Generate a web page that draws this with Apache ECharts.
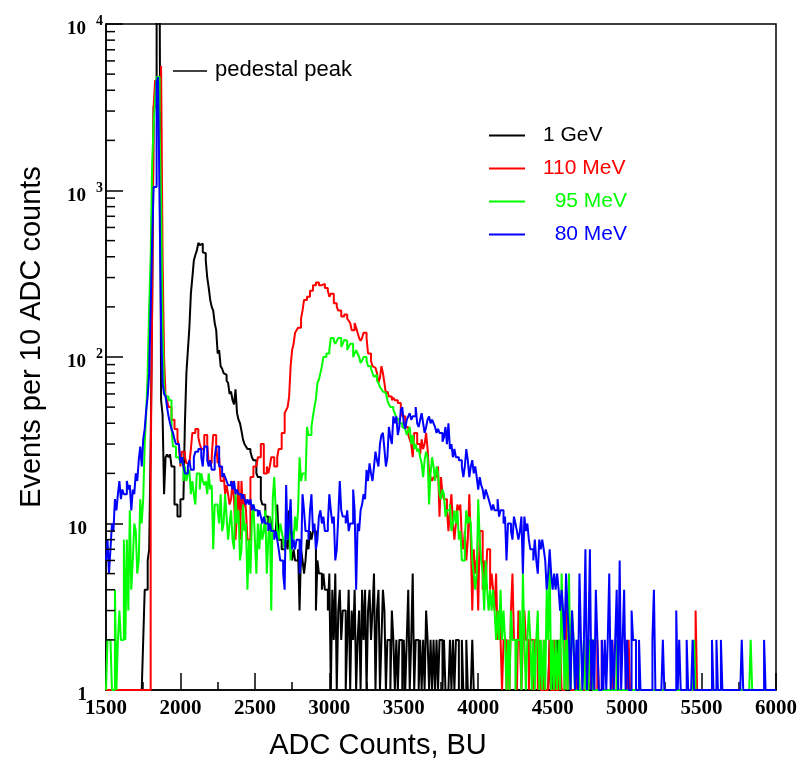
<!DOCTYPE html>
<html>
<head>
<meta charset="utf-8">
<script src="https://cdn.jsdelivr.net/npm/echarts@6/dist/echarts.min.js"></script>
<style>html,body{margin:0;padding:0;background:#fff}#c{width:802px;height:765px}</style>
</head>
<body>
<div id="c"></div>
<script>
// Histogram binning (ADC counts)
const binStart = 1500;
const binWidth = 10;

// Events per 10 ADC counts, bins from 1500 to 6000 (rows of 100 ADC)
const gev1 = [
1,1,1,1,1,1,1,1,1,1,
1,1,1,1,1,1,1,1,1,1,
1,1,1,1,1,2,4,4,6,7,
30,200,3200,3200,20000,20000,20000,55,45,15,
25,26,25,26,22,22,13,13,11,11,
14,14,14,40,80,110,150,240,300,380,
410,435,485,470,480,425,420,380,300,260,
220,200,190,160,145,105,110,88,85,80,
78,72,70,60,62,55,52,64,46,42,
40,36,32,30,29,28,28,27,25,24,
24,20,19,19,14,13,13,11,11,10,
11,10,9,9,9,13,8,8,7,7,
7,8,7,12,7,6,7,6,6,7,
3,7,6,5,6,8,7,9,8,9,
9,3,6,5,5,4,5,4,4,3,
5,1,4,2,5,1,3,4,2,3,
3,1,2,4,1,3,2,4,1,2,
3,1,4,2,4,1,3,4,2,3,
5,1,3,4,1,2,4,3,1,2,
2,1,3,2,1,2,1,2,2,1,
2,1,2,4,1,2,5,1,2,2,
1,2,1,2,1,3,2,1,2,1,
2,1,2,1,2,2,1,2,1,1,
1,2,1,2,1,2,2,1,1,2,
1,1,2,1,1,1,2,1,1,1,
1,1,1,1,1,1,1,1,1,1,
1,1,1,1,1,1,1,1,1,1,
1,1,1,1,1,1,1,1,1,1,
1,1,1,1,1,1,1,1,1,1,
1,1,1,1,1,1,1,1,2,1,
1,1,1,2,1,1,1,1,1,1,
1,1,1,1,1,1,1,1,1,1,
1,1,1,1,1,1,1,1,1,1,
1,1,1,1,1,1,1,1,1,1,
1,1,1,1,1,1,1,1,1,1,
1,1,1,1,1,1,1,1,1,1,
1,1,1,1,1,1,1,1,1,1,
1,1,1,1,1,1,1,1,1,1,
1,1,1,1,1,1,1,1,1,1,
1,1,1,1,1,1,1,1,1,1,
1,1,1,1,1,1,1,1,1,1,
1,1,1,1,1,1,1,1,1,1,
1,1,1,1,1,1,1,1,1,1,
1,1,1,1,1,1,1,1,1,1,
1,1,1,1,1,1,1,1,1,1
];
const mev110 = [
1,1,1,1,1,1,1,1,1,1,
1,1,1,1,1,1,1,1,1,1,
1,1,1,1,1,1,1,1,1,1,
20,200,3200,4600,3200,3000,3000,5600,400,100,
58,55,50,50,42,42,37,37,32,29,
22,27,27,25,23,23,23,28,35,35,
37,37,33,30,28,28,34,34,30,23,
23,25,34,34,30,23,25,18,18,20,
15,17,15,13,14,18,14,8,12,18,
8,18,12,15,12,8,8,19,19,22,
22,22,25,25,30,30,20,20,22,20,
22,25,25,22,22,25,28,28,35,35,
46,48,50,58,88,110,120,140,145,150,
150,170,190,220,220,230,230,250,250,270,
270,280,280,270,270,275,275,260,260,250,
230,240,240,210,210,200,190,190,175,175,
180,180,170,165,160,145,145,160,150,140,
130,125,130,140,140,130,105,105,95,88,
86,84,80,70,75,88,80,70,60,62,
58,58,55,57,55,55,53,53,48,44,
44,38,38,34,32,30,25,35,35,30,
30,26,32,28,30,35,28,20,19,18,
19,19,20,22,11,19,15,14,14,12,
9,12,15,10,8,10,13,12,13,8,
7,9,6,8,15,8,3,7,5,6,
3,9,9,4,6,4,7,7,4,5,
4,3,5,2,3,2,1,2,2,1,
2,1,3,5,2,2,1,3,2,1,
2,3,2,2,1,2,2,1,2,2,
1,2,1,1,2,1,1,1,2,1,
1,2,1,1,1,2,1,1,1,4,
1,2,1,1,1,1,1,2,1,1,
1,1,1,2,1,2,1,2,1,1,
2,1,1,2,1,1,1,1,1,1,
2,1,1,2,1,1,1,1,1,1,
1,2,1,1,1,1,1,1,1,1,
1,1,1,1,1,1,1,1,1,1,
1,1,1,1,1,1,1,1,1,1,
1,1,1,1,1,1,1,1,1,1,
1,1,1,1,1,1,3,1,1,1,
1,1,1,1,1,1,1,1,1,1,
1,1,1,1,1,1,1,1,1,1,
1,1,1,1,1,1,1,1,1,1,
1,1,1,1,1,1,1,1,1,1,
1,1,1,1,1,1,1,1,1,1
];
const mev95 = [
1,2,2,2,1,1,4,1,2,3,
2,2,8,2,8,3,12,4,6,10,
9,5,6,14,10,14,30,46,80,200,
400,1450,2500,3500,4800,4800,2400,900,150,65,
58,58,55,55,37,29,29,25,25,25,
23,23,18,22,18,20,21,15,18,15,
13,20,20,16,20,18,17,18,15,20,
16,17,7,13,13,12,10,15,9,10,
15,11,8,10,12,8,7,15,10,12,
6,7,13,9,10,4,8,5,11,13,
8,5,10,7,10,8,9,12,5,8,
11,3,14,19,12,9,8,10,9,8,
7,9,8,10,6,9,8,11,9,12,
25,18,20,20,18,38,34,34,38,44,
50,56,70,73,80,88,100,100,105,105,
110,130,130,125,120,125,130,130,115,120,
127,125,110,115,120,120,100,105,110,105,
100,92,95,100,100,95,88,88,85,80,
76,78,72,70,66,64,62,61,60,55,
52,50,50,48,46,43,42,40,40,38,
37,36,34,36,38,30,34,28,30,27,
28,25,23,19,24,27,25,13,20,25,
22,18,22,20,15,14,16,15,11,12,
12,13,9,10,12,10,12,8,9,6,
6,8,12,10,11,10,6,5,4,5,
14,8,6,5,3,6,4,3,4,3,
4,3,2,3,2,4,2,3,2,1,
2,1,3,2,2,1,2,2,3,1,
5,2,1,2,3,2,1,2,1,2,
3,1,2,1,2,1,4,2,6,1,
2,1,2,1,2,1,5,2,1,2,
1,5,1,3,2,1,1,2,1,1,
1,2,1,1,1,2,2,1,1,1,
1,1,1,1,1,1,1,1,1,1,
1,1,1,2,1,1,1,1,1,1,
1,1,1,1,1,1,1,1,1,1,
1,1,1,1,1,1,1,1,1,1,
1,1,1,1,1,1,1,1,1,1,
1,1,1,1,1,1,1,1,1,1,
1,1,1,1,1,2,1,1,1,1,
1,1,1,1,1,1,1,1,1,1,
1,1,1,1,1,1,1,1,1,1,
1,1,1,1,1,1,1,1,1,1,
1,1,1,2,1,1,1,1,1,1,
1,1,1,1,1,1,1,1,1,1
];
const mev80 = [
6,8,5,7,10,9,14,12,15,18,
14,16,15,15,18,16,17,12,16,15,
20,18,24,29,22,32,37,48,58,80,
200,500,1050,1050,4500,4800,800,150,70,60,
58,50,44,40,37,35,32,30,30,30,
23,25,22,20,20,22,24,21,21,25,
27,27,28,28,25,22,29,29,24,22,
24,21,21,25,29,29,22,22,19,20,
19,18,17,17,18,16,18,15,16,15,
15,14,15,14,13,14,13,14,12,13,
12,12,11,12,11,10,11,10,10,9,
10,9,9,8,9,8,7,6,6,5,
4,17,8,10,14,7,8,7,8,8,
5,6,15,12,9,9,8,12,15,9,
10,7,8,11,12,10,11,9,9,10,
15,12,10,11,6,7,11,18,12,11,
11,10,12,9,10,10,16,12,4,10,
9,12,13,15,14,21,18,23,20,18,
22,27,24,22,30,34,35,28,22,25,
38,33,30,44,40,44,34,38,48,50,
40,37,42,44,46,42,44,44,50,40,
38,42,46,40,35,38,42,44,40,42,
40,38,35,37,35,35,31,33,38,30,
40,28,30,25,28,25,25,24,24,22,
19,22,28,24,19,22,24,20,22,19,
16,19,17,16,14,16,15,14,13,12,
13,12,12,14,11,12,12,10,11,6,
10,10,9,8,11,10,9,8,9,11,
5,11,9,10,8,7,7,6,8,6,
5,8,7,8,7,6,4,5,7,5,
4,5,4,5,4,3,4,3,2,5,
3,2,1,3,2,1,2,1,5,2,
1,2,7,1,2,7,1,2,1,4,
2,1,1,2,1,2,1,2,5,1,
2,1,2,4,1,6,1,2,4,1,
2,1,1,3,2,2,1,1,2,1,
1,1,1,1,1,1,1,2,4,1,
1,1,1,1,2,1,1,1,1,1,
1,1,1,3,1,2,1,1,1,1,
2,1,1,1,2,1,1,1,1,1,
1,1,1,1,1,1,1,2,1,1,
2,1,1,2,1,1,1,1,1,1,
1,1,1,1,1,1,1,2,1,1,
1,1,1,1,1,1,1,1,1,1,
1,1,2,1,1,1,1,1,1,1
];

const seriesNames = ['1 GeV', '110 MeV', '95 MeV', '80 MeV'];
const seriesColors = ['#000000', '#ff0000', '#00ff00', '#0000ff'];
const xTicks = [1500, 2000, 2500, 3000, 3500, 4000, 4500, 5000, 5500, 6000];
const yMinorTicks = [2,3,4,5,6,7,8,9,20,30,40,50,60,70,80,90,200,300,400,500,600,700,800,900,2000,3000,4000,5000,6000,7000,8000,9000];

function toSteps(arr) {
  const pts = arr.map((v, i) => [binStart + i * binWidth, v]);
  pts.push([binStart + arr.length * binWidth, arr[arr.length - 1]]);
  return pts;
}

const allData = [gev1, mev110, mev95, mev80];
const lineSeries = allData.map((arr, k) => ({
  name: seriesNames[k],
  type: 'line',
  step: 'end',
  symbol: 'none',
  data: toSteps(arr),
  clip: true,
  lineStyle: { color: seriesColors[k], width: 2 },
  itemStyle: { color: seriesColors[k] },
  z: 2 + k
}));

const chart = echarts.init(document.getElementById('c'), null, { renderer: 'canvas' });
chart.setOption({
  animation: false,
  backgroundColor: '#fff',
  grid: { left: 106, right: 26, top: 24, bottom: 68, show: true, borderColor: '#000', borderWidth: 1.5, backgroundColor: 'transparent' },
  legend: {
    orient: 'vertical',
    left: 484,
    top: 120,
    icon: 'rect',
    itemWidth: 36,
    itemHeight: 2,
    itemGap: 12,
    selectedMode: false,
    formatter: n => (n === '95 MeV' || n === '80 MeV') ? '  ' + n : n,
    textStyle: { fontFamily: 'Liberation Sans', fontSize: 21, lineHeight: 21, padding: [0, 0, 0, 13] },
    data: seriesNames.map((n, k) => ({ name: n, textStyle: { color: seriesColors[k] } }))
  },
  xAxis: {
    type: 'value',
    min: 1500,
    max: 6000,
    interval: 500,
    name: 'ADC Counts, BU',
    nameLocation: 'middle',
    nameGap: 41,
    nameTextStyle: { fontFamily: 'Liberation Sans', fontSize: 29, color: '#000', padding: [0, 126, 0, 0] },
    axisLine: { show: true, lineStyle: { color: '#000', width: 1.5 } },
    axisTick: { show: true, inside: true, length: 17, lineStyle: { color: '#000', width: 1.5 } },
    minorTick: { show: true, splitNumber: 2, length: 8, lineStyle: { color: '#000', width: 1.5 } },
    splitLine: { show: false },
    axisLabel: {
      margin: 8,
      showMinLabel: true, showMaxLabel: true,
      fontFamily: 'Liberation Serif', fontWeight: 'bold', fontSize: 21, color: '#000',
      formatter: v => xTicks.includes(v) ? String(v) : ''
    }
  },
  yAxis: {
    type: 'log',
    logBase: 10,
    min: 1,
    max: 10000,
    name: 'Events per 10 ADC counts',
    nameLocation: 'middle',
    nameGap: 60,
    nameRotate: 90,
    nameTextStyle: { fontFamily: 'Liberation Sans', fontSize: 29, color: '#000', padding: [0, 0, 0, 40] },
    axisLine: { show: true, lineStyle: { color: '#000', width: 1.5 } },
    axisTick: { show: true, inside: true, length: 17, lineStyle: { color: '#000', width: 1.5 } },
    splitLine: { show: false },
    axisLabel: {
      margin: 3,
      padding: [11, 0, 0, 0],
      formatter: v => {
        const e = Math.round(Math.log10(v));
        if (e === 0) return '{b|1}{e|}';
        if (e === 1) return '{b|10}{e|}';
        return '{b|10}{s|' + e + '}';
      },
      rich: {
        b: { fontFamily: 'Liberation Serif', fontWeight: 'bold', fontSize: 19, lineHeight: 20, color: '#000' },
        s: { fontFamily: 'Liberation Serif', fontWeight: 'bold', fontSize: 14, lineHeight: 16, color: '#000', padding: [0, 0, 16, 10] },
        e: { width: 16 }
      }
    }
  },
  graphic: [
    { type: 'line', shape: { x1: 173, y1: 71, x2: 207, y2: 71 }, style: { stroke: '#000', lineWidth: 1.5 } },
    { type: 'text', left: 215, top: 59, style: { text: 'pedestal peak', font: '22px "Liberation Sans"', fill: '#000' } }
  ],
  series: lineSeries.concat([{
    type: 'custom',
    silent: true,
    clip: false,
    z: 10,
    data: yMinorTicks.map(v => [binStart, v]),
    encode: { x: 0, y: 1 },
    renderItem: (params, api) => {
      const p = api.coord([api.value(0), api.value(1)]);
      return { type: 'line', shape: { x1: p[0], y1: p[1], x2: p[0] + 9, y2: p[1] }, style: { stroke: '#000', lineWidth: 1.5 } };
    }
  }])
});
</script>
</body>
</html>
